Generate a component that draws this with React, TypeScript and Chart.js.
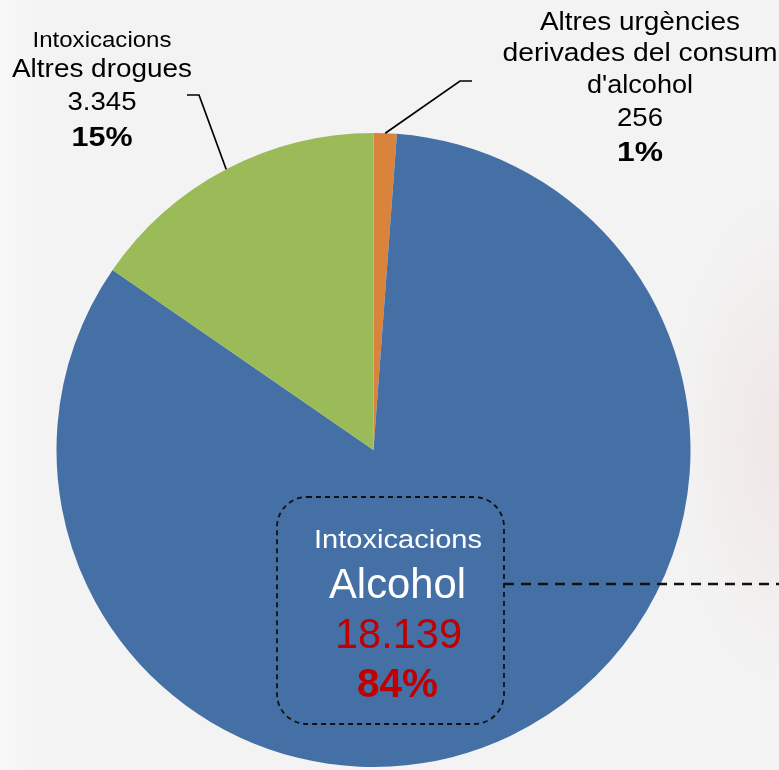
import React, { useEffect, useRef } from 'react';
import { Chart, registerables } from 'chart.js';

Chart.register(...registerables);

const categories = [
  "Altres urgències derivades del consum d'alcohol",
  'Intoxicacions Alcohol',
  'Intoxicacions Altres drogues',
];
const values = [256, 18139, 3345];
const valueLabels = ['256', '18.139', '3.345'];
const percentLabels = ['1%', '84%', '15%'];
const colors = ['#DA833C', '#4570A5', '#9BBB59'];

const FONT = '"Liberation Sans", Arial, Helvetica, sans-serif';

type Line = { text: string; x: number; y: number; size: number; bold?: boolean; w: number; color: string };

function drawLine(ctx: CanvasRenderingContext2D, l: Line) {
  ctx.save();
  ctx.font = `${l.bold ? 'bold ' : ''}${l.size}px ${FONT}`;
  ctx.fillStyle = l.color;
  ctx.textAlign = 'center';
  ctx.textBaseline = 'alphabetic';
  const natural = ctx.measureText(l.text).width;
  const sx = l.w / natural;
  ctx.translate(l.x, l.y);
  ctx.scale(sx, 1);
  ctx.fillText(l.text, 0, 0);
  ctx.restore();
}

const bgPlugin = {
  id: 'bg',
  beforeDraw(chart: any) {
    const ctx: CanvasRenderingContext2D = chart.ctx;
    const W = chart.width, H = chart.height;
    ctx.save();
    ctx.fillStyle = '#F3F3F3';
    ctx.fillRect(0, 0, W, H);
    ctx.save();
    ctx.translate(780, 440);
    ctx.scale(1, 2.2);
    const g = ctx.createRadialGradient(0, 0, 5, 0, 0, 110);
    g.addColorStop(0, 'rgba(236,216,216,0.45)');
    g.addColorStop(1, 'rgba(236,216,216,0)');
    ctx.fillStyle = g;
    ctx.fillRect(-200, -250, 400, 500);
    ctx.restore();
    const lg = ctx.createLinearGradient(0, 0, 40, 0);
    lg.addColorStop(0, 'rgba(255,255,255,0.5)');
    lg.addColorStop(1, 'rgba(255,255,255,0)');
    ctx.fillStyle = lg;
    ctx.fillRect(0, 0, 40, H);
    ctx.restore();
  },
};

const labelPlugin = {
  id: 'labels',
  afterDraw(chart: any) {
    const ctx: CanvasRenderingContext2D = chart.ctx;
    const arcs = chart.getDatasetMeta(0).data;
    const edgePoint = (i: number) => {
      const a = arcs[i];
      const mid = (a.startAngle + a.endAngle) / 2;
      return { x: a.x + Math.cos(mid) * a.outerRadius, y: a.y + Math.sin(mid) * a.outerRadius };
    };

    ctx.save();
    ctx.strokeStyle = '#000';
    ctx.lineWidth = 1.7;
    const p0 = edgePoint(0);
    ctx.beginPath();
    ctx.moveTo(p0.x, p0.y);
    ctx.lineTo(460, 81);
    ctx.lineTo(472, 81);
    ctx.stroke();
    const p2 = edgePoint(2);
    ctx.beginPath();
    ctx.moveTo(p2.x, p2.y);
    ctx.lineTo(199, 95);
    ctx.lineTo(187, 95);
    ctx.stroke();

    ctx.setLineDash([5, 4]);
    ctx.lineWidth = 1.8;
    ctx.strokeStyle = '#111';
    ctx.beginPath();
    (ctx as any).roundRect(277, 497, 227, 227, 30);
    ctx.stroke();
    ctx.setLineDash([10, 7]);
    ctx.lineWidth = 2.5;
    ctx.beginPath();
    ctx.moveTo(504, 584);
    ctx.lineTo(779, 584);
    ctx.stroke();
    ctx.restore();

    const lines: Line[] = [
      { text: 'Intoxicacions', x: 102, y: 47, size: 22, w: 139, color: '#000' },
      { text: 'Altres drogues', x: 102, y: 77, size: 26, w: 180, color: '#000' },
      { text: valueLabels[2], x: 102, y: 110, size: 26, w: 69, color: '#000' },
      { text: percentLabels[2], x: 102, y: 146, size: 27, bold: true, w: 61, color: '#000' },
      { text: 'Altres urgències', x: 640, y: 30, size: 26, w: 200, color: '#000' },
      { text: 'derivades del consum', x: 640, y: 61, size: 26, w: 275, color: '#000' },
      { text: "d'alcohol", x: 640, y: 93, size: 26, w: 106, color: '#000' },
      { text: valueLabels[0], x: 640, y: 126, size: 26, w: 46, color: '#000' },
      { text: percentLabels[0], x: 640, y: 161, size: 27, bold: true, w: 46, color: '#000' },
      { text: 'Intoxicacions', x: 398, y: 548, size: 25, w: 168, color: '#FFFFFF' },
      { text: 'Alcohol', x: 397.5, y: 598, size: 42, w: 137, color: '#FFFFFF' },
      { text: valueLabels[1], x: 398.5, y: 648, size: 42, w: 127, color: '#C00000' },
      { text: percentLabels[1], x: 397.5, y: 697, size: 41, bold: true, w: 81, color: '#C00000' },
    ];
    lines.forEach((l) => drawLine(ctx, l));
  },
};

export default function App() {
  const ref = useRef<HTMLCanvasElement | null>(null);
  useEffect(() => {
    if (!ref.current) return;
    const chart = new Chart(ref.current, {
      type: 'pie',
      data: {
        labels: categories,
        datasets: [
          {
            data: values,
            backgroundColor: colors,
            borderWidth: 0,
            hoverOffset: 0,
            offset: 0,
          },
        ],
      },
      options: {
        responsive: false,
        animation: false,
        layout: { padding: { left: 55, right: 87, top: 133, bottom: 3 } },
        plugins: {
          legend: { display: false },
          tooltip: { enabled: false },
        },
      },
      plugins: [bgPlugin, labelPlugin],
    } as any);
    return () => chart.destroy();
  }, []);
  return (
    <div style={{ position: 'fixed', left: 0, top: 0, width: 779, height: 770 }}>
      <canvas ref={ref} width={779} height={770} style={{ display: 'block' }} />
    </div>
  );
}
